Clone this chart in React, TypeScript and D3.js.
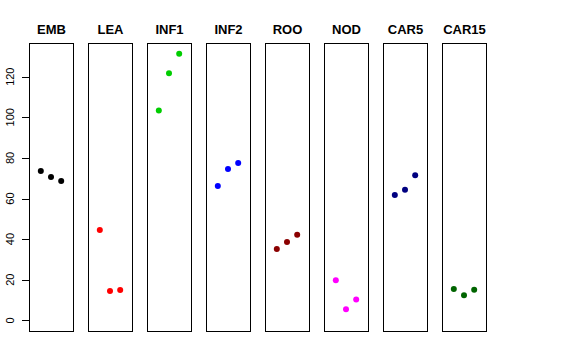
import React, { useEffect, useRef } from 'react';
import * as d3 from 'd3';

// panel names and colours
const tissues = ['EMB', 'LEA', 'INF1', 'INF2', 'ROO', 'NOD', 'CAR5', 'CAR15'];
const colours = ['#000000', '#FF0000', '#00CD00', '#0000FF', '#8B0000', '#FF00FF', '#000080', '#006400'];

// three replicate values per tissue
const rep1 = [73.5, 44.5, 103.4, 66.2, 35.1, 19.7, 61.7, 15.4];
const rep2 = [70.6, 14.4, 121.7, 74.5, 38.6, 5.4, 64.3, 12.3];
const rep3 = [68.6, 14.9, 131.3, 77.5, 42.2, 10.3, 71.4, 15.1];

const yTicks = [0, 20, 40, 60, 80, 100, 120];

const App = () => {
    const ref = useRef<SVGSVGElement>(null);

    useEffect(() => {
        const svg = d3.select(ref.current);
        svg.selectAll('*').remove();

        const top = 43, bottom = 331;
        const panelW = 44, step = 59, left0 = 29;

        const y = d3.scaleLinear().domain([-5.26, 136.6]).range([bottom, top]);
        const panel = d3.scaleBand().domain(tissues).range([left0, left0 + step * tissues.length]).paddingInner(0);

        // y axis on the first panel
        const ax = svg.append('g');
        ax.selectAll('line.tick')
            .data(yTicks)
            .enter()
            .append('line')
            .attr('x1', left0 - 7)
            .attr('x2', left0)
            .attr('y1', d => Math.round(y(d)) + 0.5)
            .attr('y2', d => Math.round(y(d)) + 0.5)
            .attr('stroke', '#000');
        ax.append('line')
            .attr('x1', left0 + 0.5).attr('x2', left0 + 0.5)
            .attr('y1', y(0)).attr('y2', y(120))
            .attr('stroke', '#000');
        ax.selectAll('text')
            .data(yTicks)
            .enter()
            .append('text')
            .attr('transform', d => `translate(13.5,${y(d)}) rotate(-90)`)
            .attr('text-anchor', 'middle')
            .style('font-family', 'Liberation Sans, Arial, sans-serif')
            .style('font-size', '11px')
            .text(d => d);

        tissues.forEach((t, i) => {
            const x0 = panel(t) as number;
            const x = d3.scaleLinear().domain([-0.16, 4.16]).range([x0, x0 + panelW]);
            const g = svg.append('g');

            g.append('rect')
                .attr('x', x0 + 0.5)
                .attr('y', top + 0.5)
                .attr('width', panelW)
                .attr('height', bottom - top)
                .attr('fill', 'none')
                .attr('stroke', '#000');

            g.append('text')
                .attr('x', x0 + panelW / 2 + 0.5)
                .attr('y', 34)
                .attr('text-anchor', 'middle')
                .style('font-family', 'Liberation Sans, Arial, sans-serif')
                .style('font-size', '13px')
                .style('font-weight', 'bold')
                .text(t);

            const vals = [rep1[i], rep2[i], rep3[i]];
            g.selectAll('circle')
                .data(vals)
                .enter()
                .append('circle')
                .attr('cx', (d, j) => x(j + 1))
                .attr('cy', d => y(d))
                .attr('r', 3)
                .attr('fill', colours[i]);
        });
    }, []);

    return (
        <svg ref={ref} width={576} height={360} style={{ position: 'absolute', left: 0, top: 0, background: '#fff' }}></svg>
    );
};

export default App;
